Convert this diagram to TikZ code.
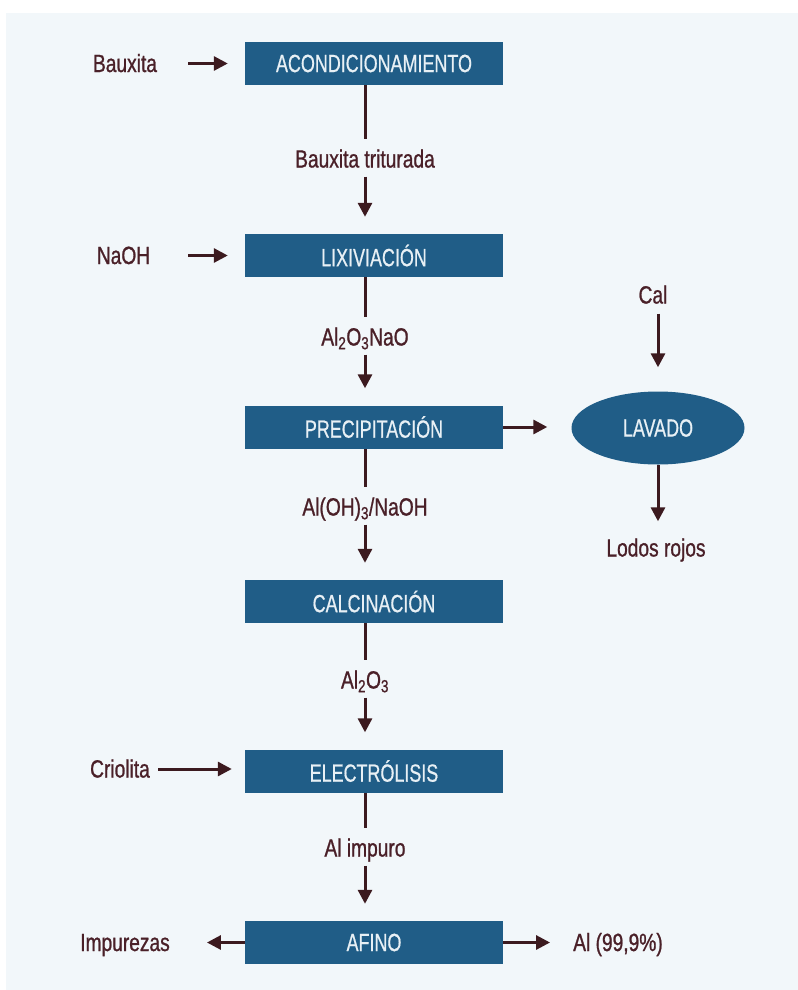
\documentclass[tikz,border=0pt]{standalone}
\usepackage{fontspec}
\setmainfont{Liberation Sans}
\newfontfamily\cajafont{Liberation Sans}[FakeStretch=0.72, FakeBold=0.6]
\newfontfamily\rotfont{Liberation Sans}[FakeStretch=0.77, FakeBold=0.9]
\usetikzlibrary{arrows.meta, shapes.geometric}
\definecolor{fondo}{HTML}{F2F7FA}
\definecolor{caja}{HTML}{205D87}
\definecolor{blanco}{HTML}{E8F0F5}
\definecolor{letra}{HTML}{4A2028}
\definecolor{flecha}{HTML}{3C1A1F}

\tikzset{
  etapa/.style={fill=caja, minimum width=258bp, minimum height=43bp, inner sep=0pt,
    text=blanco, font=\cajafont\fontsize{25}{27}\selectfont},
  lavado/.style={ellipse, fill=caja, minimum width=173bp, minimum height=73bp, inner sep=0pt,
    text=blanco, font=\cajafont\fontsize{25}{27}\selectfont},
  rotulo/.style={text=letra, inner sep=0pt, text height=17bp, text depth=0bp,
    font=\rotfont\fontsize{25}{27}\selectfont},
  linea/.style={draw=flecha, line width=3bp},
  tramo/.style={linea, shorten >=11bp},
  flechita/.style={linea, -{Triangle[length=14bp, width=14bp]}},
  bajada/.style={flechita, shorten <=9bp, shorten >=17bp}
}

\begin{document}
\begin{tikzpicture}[x=1bp, y=-1bp]
  % fondo
  \fill[white] (0,0) rectangle (798,990);
  \fill[fondo] (6,13) rectangle (798,990);
  \useasboundingbox (0,0) rectangle (798,990);

  % etapas del proceso
  \node[etapa] (acond)    at (374,63.5)  {ACONDICIONAMIENTO};
  \node[etapa] (lixiv)    at (374,255.5) {LIXIVIACIÓN};
  \node[etapa] (precip)   at (374,427)   {PRECIPITACIÓN};
  \node[etapa] (calcin)   at (374,601.5) {CALCINACIÓN};
  \node[etapa] (electro)  at (374,771)   {ELECTRÓLISIS};
  \node[etapa] (afino)    at (374,942.5) {AFINO};
  \node[lavado] (lav)     at (658,428)   {LAVADO};

  % productos intermedios
  \node[rotulo] (triturada) at (365,159) {Bauxita triturada};
  \node[rotulo] (aluminato) at (365,337) {Al\textsubscript{2}O\textsubscript{3}NaO};
  \node[rotulo] (hidrox)    at (365,507) {Al(OH)\textsubscript{3}/NaOH};
  \node[rotulo] (alumina)   at (365,680) {Al\textsubscript{2}O\textsubscript{3}};
  \node[rotulo] (impuro)    at (365,848) {Al impuro};

  % entradas y salidas
  \node[rotulo] (bauxita)   at (125,63.5)  {Bauxita};
  \node[rotulo] (naoh)      at (123.5,255.5) {NaOH};
  \node[rotulo] (criolita)  at (120,769)   {Criolita};
  \node[rotulo] (impurezas) at (125,942.5) {Impurezas};
  \node[rotulo] (alpuro)    at (618,942.5) {Al (99,9\%)};
  \node[rotulo] (cal)       at (653,295)   {Cal};
  \node[rotulo] (lodos)     at (656,548)   {Lodos rojos};

  % linea principal
  \draw[tramo]  (acond.south -| triturada) -- (triturada.north);
  \draw[bajada] (triturada.south) -- (lixiv.north -| triturada);
  \draw[tramo]  (lixiv.south -| aluminato) -- (aluminato.north);
  \draw[bajada] (aluminato.south) -- (precip.north -| aluminato);
  \draw[tramo]  (precip.south -| hidrox) -- (hidrox.north);
  \draw[bajada] (hidrox.south) -- (calcin.north -| hidrox);
  \draw[tramo]  (calcin.south -| alumina) -- (alumina.north);
  \draw[bajada] (alumina.south) -- (electro.north -| alumina);
  \draw[tramo]  (electro.south -| impuro) -- (impuro.north);
  \draw[bajada] (impuro.south) -- (afino.north -| impuro);

  % entradas laterales
  \draw[flechita, shorten <=31bp, shorten >=17bp] (bauxita.east) -- (acond.west);
  \draw[flechita, shorten <=38bp, shorten >=17bp] (naoh.east) -- (lixiv.west);
  \draw[flechita, shorten <=8bp, shorten >=13bp] (criolita.east) -- (electro.west |- criolita);
  \draw[flechita, shorten >=37bp] (afino.west) -- (impurezas.east);
  \draw[flechita, shorten >=23bp] (afino.east) -- (alpuro.west);

  % lavado
  \draw[flechita, shorten >=24bp] (precip.east) -- (lav.west |- precip);
  \draw[flechita, shorten <=10bp, shorten >=24bp] (cal.south -| lav) -- (lav.north);
  \draw[flechita, shorten >=18bp] (lav.south) -- (lodos.north -| lav);
\end{tikzpicture}
\end{document}
